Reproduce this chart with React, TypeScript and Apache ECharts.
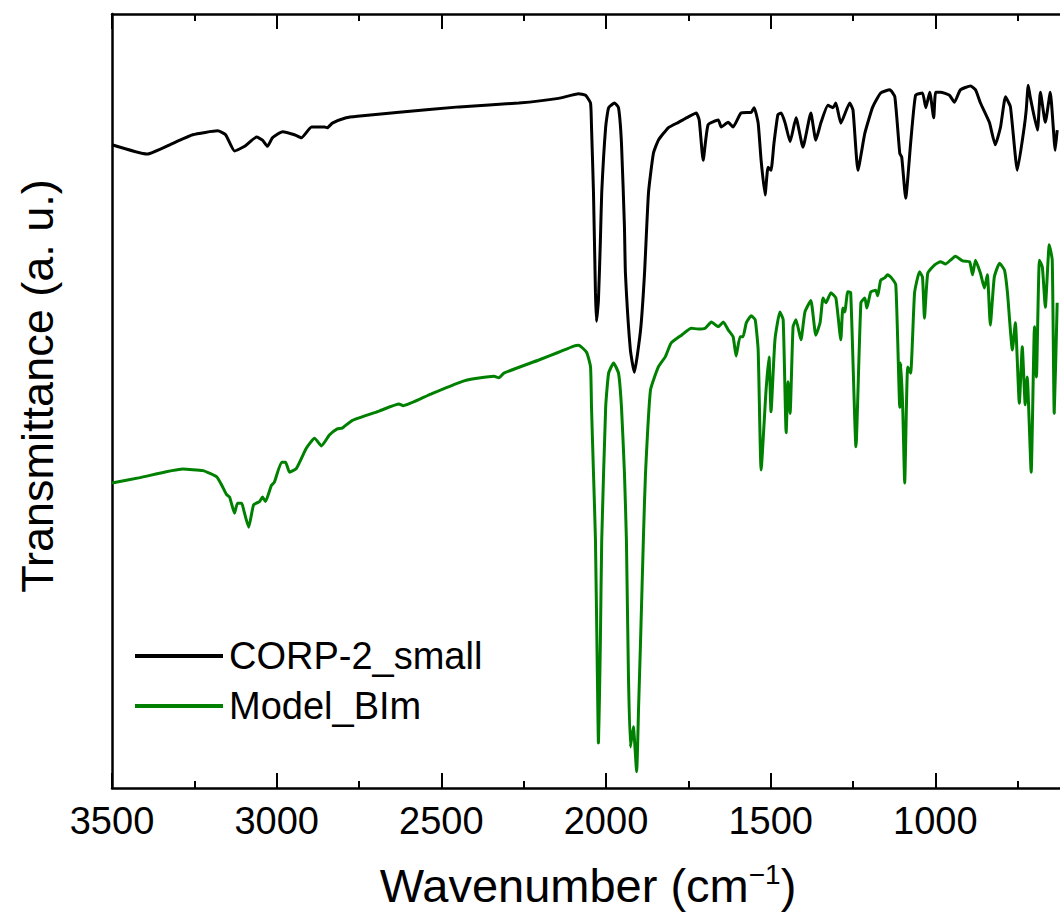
import React, { useEffect, useRef } from "react";
import * as echarts from "echarts";

const FONT = "'Liberation Sans', Arial, Helvetica, sans-serif";

const seriesNames = ["CORP-2_small", "Model_BIm"];
const seriesColors = ["#000000", "#008000"];

const xTickMin = 500;
const xTickMax = 3500;
const xTickStep = 500;

// CORP-2_small (black) — wavenumber (cm-1) and transmittance (a.u.)
const corpWavenumber = [
  3500, 3394, 3315, 3255, 3179, 3155, 3128, 3097, 3061, 3043,
  3028, 3013, 2982, 2946, 2925, 2894, 2855, 2846, 2831, 2789,
  2755, 2628, 2446, 2265, 2144, 2083, 2062, 2047, 2044, 2038,
  2032, 2029, 2023, 2017, 2013, 2001, 1992, 1974, 1962, 1953,
  1944, 1941, 1926, 1914, 1895, 1883, 1871, 1856, 1841, 1811,
  1780, 1750, 1726, 1717, 1705, 1690, 1659, 1650, 1629, 1614,
  1590, 1559, 1550, 1538, 1529, 1517, 1508, 1499, 1490, 1478,
  1468, 1456, 1441, 1423, 1402, 1378, 1363, 1347, 1326, 1311,
  1302, 1287, 1260, 1250, 1235, 1214, 1190, 1166, 1138, 1123,
  1108, 1102, 1090, 1075, 1060, 1039, 1029, 1017, 1005, 999,
  984, 957, 942, 924, 893, 878, 863, 836, 818, 802,
  787, 772, 751, 730, 724, 718, 712, 690, 681, 666,
  651, 636, 630,
];
const corpTransmittance = [
  0.831, 0.819, 0.833, 0.844, 0.849, 0.844, 0.823, 0.829, 0.841, 0.837,
  0.829, 0.84, 0.848, 0.844, 0.84, 0.854, 0.854, 0.853, 0.859, 0.866,
  0.868, 0.873, 0.88, 0.885, 0.891, 0.897, 0.895, 0.885, 0.854, 0.769,
  0.64, 0.603, 0.63, 0.708, 0.769, 0.854, 0.879, 0.885, 0.879, 0.833,
  0.725, 0.665, 0.566, 0.537, 0.592, 0.665, 0.769, 0.82, 0.837, 0.853,
  0.86, 0.867, 0.872, 0.863, 0.811, 0.857, 0.863, 0.854, 0.86, 0.854,
  0.872, 0.873, 0.879, 0.859, 0.811, 0.766, 0.802, 0.798, 0.833, 0.87,
  0.872, 0.859, 0.835, 0.866, 0.828, 0.872, 0.837, 0.86, 0.882, 0.879,
  0.885, 0.859, 0.885, 0.876, 0.798, 0.846, 0.88, 0.898, 0.902, 0.893,
  0.82, 0.815, 0.762, 0.833, 0.895, 0.898, 0.879, 0.899, 0.866, 0.899,
  0.899, 0.895, 0.886, 0.902, 0.907, 0.902, 0.885, 0.86, 0.831, 0.854,
  0.893, 0.88, 0.798, 0.854, 0.876, 0.908, 0.893, 0.85, 0.899, 0.86,
  0.899, 0.824, 0.85,
];

// Model_BIm (green)
const modelWavenumber = [
  3500, 3415, 3285, 3224, 3182, 3164, 3152, 3143, 3128, 3119,
  3106, 3100, 3085, 3070, 3052, 3043, 3034, 3016, 3007, 2985,
  2973, 2961, 2940, 2910, 2885, 2864, 2840, 2816, 2801, 2770,
  2689, 2628, 2616, 2537, 2431, 2340, 2325, 2310, 2204, 2144,
  2098, 2083, 2059, 2047, 2044, 2038, 2032, 2026, 2023, 2020,
  2017, 2013, 2001, 1992, 1977, 1962, 1953, 1944, 1938, 1932,
  1926, 1917, 1907, 1901, 1895, 1886, 1880, 1865, 1841, 1820,
  1802, 1771, 1741, 1720, 1699, 1680, 1659, 1644, 1629, 1614,
  1605, 1593, 1584, 1574, 1559, 1547, 1538, 1529, 1514, 1505,
  1499, 1487, 1472, 1462, 1453, 1447, 1441, 1432, 1423, 1408,
  1396, 1378, 1363, 1350, 1341, 1332, 1317, 1302, 1287, 1281,
  1275, 1266, 1257, 1241, 1226, 1214, 1208, 1196, 1181, 1175,
  1166, 1154, 1145, 1135, 1120, 1108, 1105, 1099, 1093, 1084,
  1075, 1063, 1048, 1039, 1033, 1023, 1002, 984, 969, 954,
  939, 917, 896, 887, 878, 863, 851, 842, 833, 821,
  805, 790, 781, 766, 757, 745, 736, 727, 721, 709,
  699, 693, 684, 675, 666, 654, 645, 639, 630,
];
const modelTransmittance = [
  0.394, 0.401, 0.412, 0.41, 0.402, 0.389, 0.379, 0.376, 0.355, 0.368,
  0.368, 0.359, 0.337, 0.366, 0.37, 0.376, 0.37, 0.391, 0.395, 0.421,
  0.421, 0.408, 0.413, 0.439, 0.452, 0.442, 0.456, 0.464, 0.465, 0.475,
  0.487, 0.496, 0.494, 0.508, 0.526, 0.532, 0.53, 0.536, 0.553, 0.563,
  0.571, 0.572, 0.563, 0.544, 0.492, 0.407, 0.32, 0.14, 0.058, 0.114,
  0.191, 0.32, 0.492, 0.536, 0.549, 0.536, 0.492, 0.407, 0.32, 0.149,
  0.053, 0.079, 0.021, 0.105, 0.191, 0.329, 0.407, 0.514, 0.544, 0.557,
  0.575, 0.585, 0.594, 0.593, 0.594, 0.602, 0.596, 0.602, 0.592, 0.583,
  0.558, 0.583, 0.583, 0.601, 0.61, 0.605, 0.566, 0.411, 0.514, 0.557,
  0.486, 0.579, 0.615, 0.605, 0.459, 0.525, 0.484, 0.596, 0.605, 0.579,
  0.615, 0.63, 0.585, 0.601, 0.633, 0.627, 0.64, 0.633, 0.579, 0.62,
  0.615, 0.641, 0.64, 0.441, 0.627, 0.633, 0.62, 0.641, 0.643, 0.636,
  0.656, 0.659, 0.663, 0.66, 0.65, 0.492, 0.549, 0.491, 0.394, 0.544,
  0.536, 0.64, 0.667, 0.66, 0.607, 0.665, 0.676, 0.68, 0.677, 0.682,
  0.687, 0.681, 0.68, 0.663, 0.682, 0.665, 0.646, 0.663, 0.598, 0.66,
  0.678, 0.669, 0.64, 0.566, 0.601, 0.497, 0.57, 0.495, 0.531, 0.408,
  0.596, 0.531, 0.682, 0.673, 0.621, 0.702, 0.682, 0.484, 0.627,
];

const pair = (xs: number[], ys: number[]) => xs.map((x, i) => [x, ys[i]]);

export default function App() {
  const ref = useRef<HTMLDivElement>(null);

  useEffect(() => {
    if (!ref.current) return;
    const chart = echarts.init(ref.current, null, { renderer: "svg" });

    const tickCommon = {
      axisTick: { show: true, inside: true, length: 15, lineStyle: { color: "#000", width: 2 } },
      minorTick: { show: true, splitNumber: 2, length: 7, lineStyle: { color: "#000", width: 2 } },
      axisLine: { show: true, onZero: false, lineStyle: { color: "#000", width: 2.5 } },
      splitLine: { show: false },
      minorSplitLine: { show: false },
    };

    const option: any = {
      animation: false,
      backgroundColor: "#ffffff",
      textStyle: { fontFamily: FONT },
      grid: { left: 112, right: 0, top: 14, bottom: 132, containLabel: false },
      legend: {
        orient: "vertical",
        left: 130,
        top: 631,
        icon: "rect",
        itemWidth: 88,
        itemHeight: 4,
        itemGap: 10,
        data: seriesNames,
        textStyle: { fontSize: 38, fontFamily: FONT, color: "#000", lineHeight: 40, padding: [0, 0, 0, 1] },
      },
      xAxis: [
        {
          type: "value",
          position: "bottom",
          min: xTickMin,
          max: xTickMax,
          interval: xTickStep,
          inverse: true,
          ...tickCommon,
          axisLabel: {
            fontSize: 38,
            color: "#000",
            fontFamily: FONT,
            margin: 14,
            formatter: (v: number) => (v === xTickMin ? "" : String(v)),
          },
          name: "Wavenumber (cm{sup|−1})",
          nameLocation: "middle",
          nameGap: 72,
          nameTextStyle: {
            fontSize: 47,
            color: "#000",
            fontFamily: FONT,
            padding: [0, 36, 0, 0],
            rich: {
              sup: { fontSize: 28, color: "#000", fontFamily: FONT, verticalAlign: "top", padding: [0, 0, 22, 0] },
            },
          },
        },
        {
          type: "value",
          position: "top",
          min: xTickMin,
          max: xTickMax,
          interval: xTickStep,
          inverse: true,
          ...tickCommon,
          axisLabel: { show: false },
        },
      ],
      yAxis: {
        type: "value",
        min: 0,
        max: 1,
        position: "left",
        axisLine: { show: true, onZero: false, lineStyle: { color: "#000", width: 2.5 } },
        axisTick: { show: false },
        axisLabel: { show: false },
        splitLine: { show: false },
        name: "Transmittance (a. u.)",
        nameLocation: "middle",
        nameGap: 52,
        nameTextStyle: { fontSize: 45, color: "#000", fontFamily: FONT, padding: [0, 0, 0, 30] },
      },
      series: [
        {
          name: seriesNames[0],
          type: "line",
          data: pair(corpWavenumber, corpTransmittance),
          showSymbol: false,
          symbol: "none",
          smooth: 0.15,
          color: seriesColors[0],
          lineStyle: { color: seriesColors[0], width: 3 },
        },
        {
          name: seriesNames[1],
          type: "line",
          data: pair(modelWavenumber, modelTransmittance),
          showSymbol: false,
          symbol: "none",
          smooth: 0.15,
          color: seriesColors[1],
          lineStyle: { color: seriesColors[1], width: 3 },
        },
      ],
    };

    chart.setOption(option);
    return () => chart.dispose();
  }, []);

  return (
    <div style={{ position: "absolute", left: 0, top: 0, width: 1060, height: 920, overflow: "hidden" }}>
      <div ref={ref} style={{ width: 1103, height: 920 }} />
    </div>
  );
}
